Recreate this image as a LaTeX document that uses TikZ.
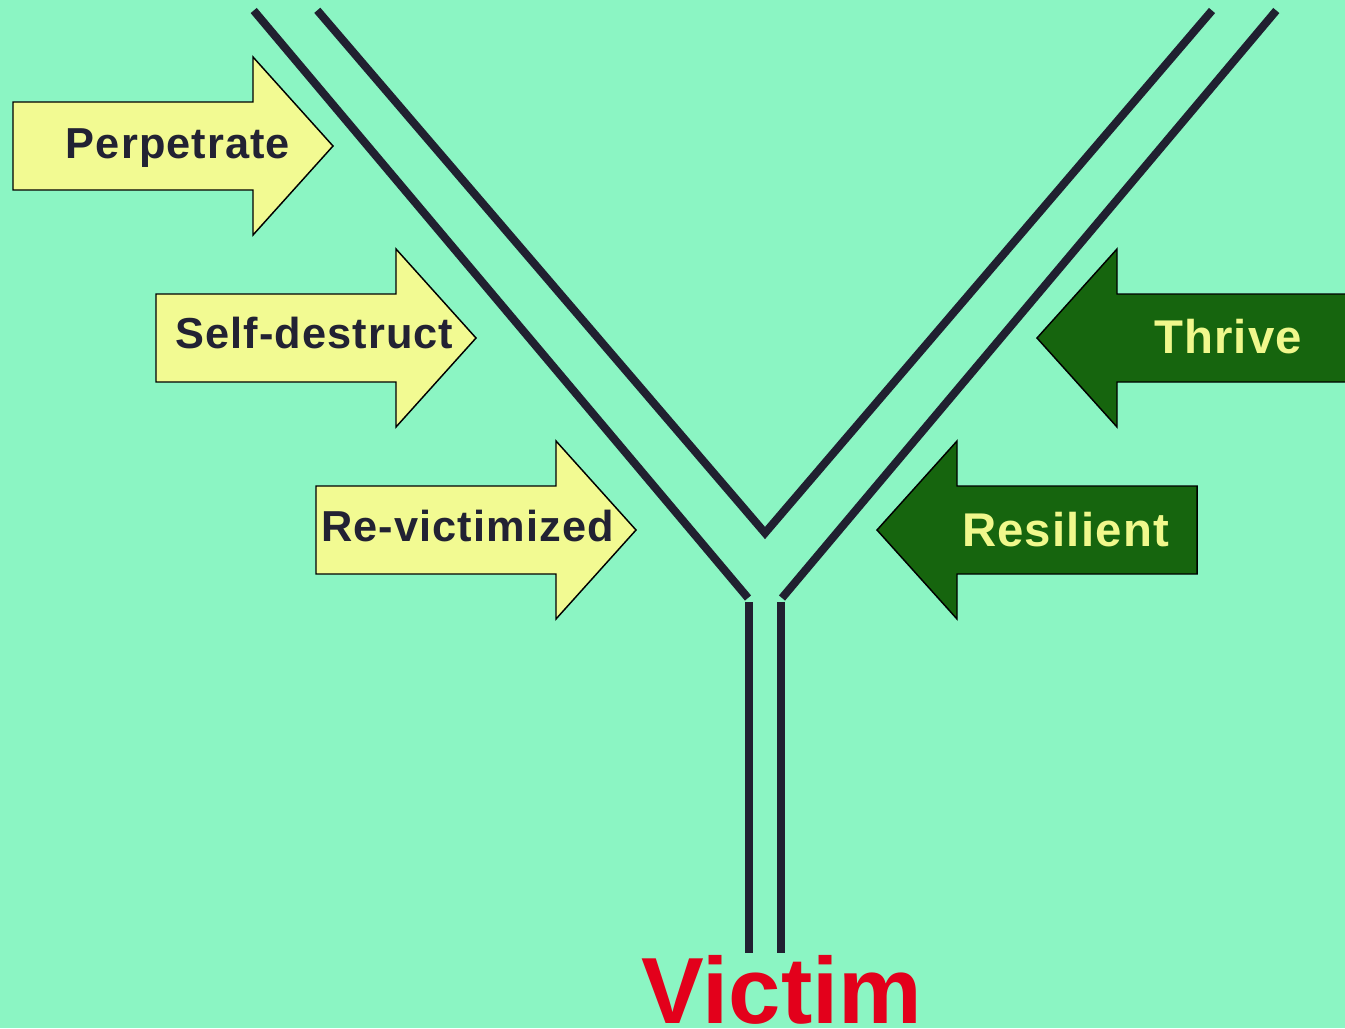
\documentclass[tikz,border=0pt]{standalone}
\usepackage{fontspec}
\newfontfamily\labfont[LetterSpace=2.5]{Liberation Sans}
\newfontfamily\vicfont{Liberation Sans}
\definecolor{bgcol}{RGB}{139,245,195}
\definecolor{ylwfill}{RGB}{242,250,146}
\definecolor{grnfill}{RGB}{22,101,14}
\definecolor{grntext}{RGB}{240,248,140}
\definecolor{darktext}{RGB}{34,34,51}
\definecolor{tubecol}{RGB}{32,32,48}
\definecolor{vicred}{RGB}{227,0,27}
\begin{document}
\begin{tikzpicture}[x=0.75pt,y=-0.75pt,
  yarrow/.style={fill=ylwfill,draw=black,line width=1.1pt,line join=miter},
  garrow/.style={fill=grnfill,draw=black,line width=1.1pt,line join=miter},
  tube/.style={draw=tubecol,line width=6pt,line join=miter},
  ylab/.style={anchor=base,inner sep=0pt,text=darktext,font={\labfont\bfseries\fontsize{32.5}{38}\selectfont}},
  glab/.style={anchor=base,inner sep=0pt,text=grntext,font={\labfont\bfseries\fontsize{35.5}{41}\selectfont}},
  viclab/.style={anchor=base,inner sep=0pt,text=vicred,font={\vicfont\bfseries\fontsize{70.5}{80}\selectfont}}
]
\fill[bgcol] (0,0) rectangle (1345,1028);
\useasboundingbox (0,0) rectangle (1345,1028);
\clip (0,0) rectangle (1345,1028);

% tubes
\draw[tube] (253.7,10.5) -- (748,598);
\draw[tube] (317.3,10.3) -- (765,533) -- (1212,10.5);
\draw[tube] (1276.3,10.5) -- (782,598);
\draw[tube] (749,602) -- (749,953);
\draw[tube] (781,602) -- (781,953);

% yellow arrows (pointing right)
\foreach \tx/\ty in {333/146, 476/338, 636/530}{
  \draw[yarrow] (\tx,\ty) -- ++(-80,-89) -- ++(0,45) -- ++(-240,0) -- ++(0,88) -- ++(240,0) -- ++(0,45) -- cycle;
}
% green arrows (pointing left)
\draw[garrow] (1037,338) -- ++(80,-89) -- ++(0,45) -- ++(260,0) -- ++(0,88) -- ++(-260,0) -- ++(0,45) -- cycle;
\draw[garrow] (877,530) -- ++(80,-89) -- ++(0,45) -- ++(240,0) -- ++(0,88) -- ++(-240,0) -- ++(0,45) -- cycle;

% labels
\node[ylab] (perp) at (178,158.5) {Perpetrate};
\node[ylab] (selfd) at (314.5,348) {Self-destruct};
\node[ylab] (revic) at (467.5,541.5) {Re-victimized};
\node[glab] (thrive) at (1228,353.3) {Thrive};
\node[glab] (resil) at (1065.5,546) {Resilient};
\node[viclab] (victim) at (782,1023) {Victim};
\end{tikzpicture}
\end{document}
